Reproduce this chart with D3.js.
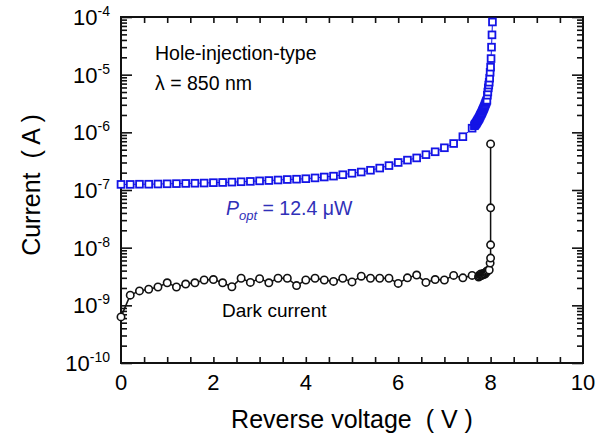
<!DOCTYPE html>
<html>
<head>
<meta charset="utf-8">
<script src="https://d3js.org/d3.v7.min.js"></script>
<style>
  body { margin: 0; background: #fff; }
  text { font-family: "Liberation Sans", Arial, Helvetica, sans-serif; fill: #000; }
</style>
</head>
<body>
<svg></svg>
<script>
// Photocurrent under illumination (blue squares), P_opt = 12.4 uW
const photoVoltage = [0, 0.2, 0.4, 0.6, 0.8, 1.0, 1.2, 1.4, 1.6, 1.8, 2.0, 2.2, 2.4, 2.6, 2.8, 3.0,
  3.2, 3.4, 3.6, 3.8, 4.0, 4.2, 4.4, 4.6, 4.8, 5.0, 5.2, 5.4, 5.6, 5.8, 6.0, 6.2, 6.4, 6.6, 6.8,
  7.0, 7.2, 7.4, 7.6,
  7.65, 7.66, 7.67, 7.68, 7.69, 7.70, 7.71, 7.72, 7.73, 7.74, 7.75, 7.76, 7.77, 7.78, 7.79,
  7.80, 7.81, 7.82, 7.83, 7.84, 7.85, 7.86, 7.87, 7.88, 7.89, 7.90, 7.91, 7.92,
  7.93, 7.94, 7.95, 7.96, 7.97, 7.98, 7.99, 8.00, 8.01, 8.02, 8.03, 8.04]
const photoCurrent = [1.25e-7, 1.25e-7, 1.26e-7, 1.26e-7, 1.27e-7, 1.28e-7, 1.29e-7, 1.30e-7, 1.31e-7,
  1.32e-7, 1.34e-7, 1.35e-7, 1.37e-7, 1.39e-7, 1.41e-7, 1.44e-7, 1.46e-7, 1.49e-7, 1.52e-7, 1.54e-7,
  1.57e-7, 1.62e-7, 1.68e-7, 1.74e-7, 1.84e-7, 1.95e-7, 2.05e-7, 2.2e-7, 2.4e-7, 2.65e-7, 3.0e-7,
  3.3e-7, 3.6e-7, 4.1e-7, 4.6e-7, 5.4e-7, 6.4e-7, 8.4e-7, 1.18e-6,
  1.3e-6, 1.35e-6, 1.38e-6, 1.42e-6, 1.45e-6, 1.5e-6, 1.55e-6, 1.6e-6, 1.65e-6, 1.7e-6, 1.75e-6,
  1.82e-6, 1.9e-6, 1.97e-6, 2.05e-6, 2.12e-6, 2.2e-6, 2.3e-6, 2.4e-6, 2.5e-6, 2.6e-6, 2.72e-6,
  2.85e-6, 3.0e-6, 3.15e-6, 3.3e-6, 3.45e-6, 3.6e-6,
  4.4e-6, 5.0e-6, 5.9e-6, 6.6e-6, 7.4e-6, 8.7e-6, 1.1e-5, 1.35e-5, 1.9e-5, 3.0e-5, 4.9e-5, 8.2e-5]

// Dark current (black circles)
const darkVoltage = [0, 0.2, 0.4, 0.6, 0.8, 1.0, 1.2, 1.4, 1.6, 1.8, 2.0, 2.2, 2.4, 2.6, 2.8, 3.0,
  3.2, 3.4, 3.6, 3.8, 4.0, 4.2, 4.4, 4.6, 4.8, 5.0, 5.2, 5.4, 5.6, 5.8, 6.0, 6.2, 6.4, 6.6, 6.8,
  7.0, 7.2, 7.4, 7.6,
  7.74, 7.75, 7.76, 7.77, 7.78, 7.79, 7.80, 7.81, 7.82, 7.83, 7.84, 7.85, 7.86, 7.87, 7.88,
  7.89, 7.90, 7.91, 7.92, 7.94,
  7.97, 7.99, 8.0, 8.0, 8.0, 8.0]
const darkCurrent = [6.3e-10, 1.5e-9, 1.78e-9, 1.9e-9, 2.08e-9, 2.46e-9, 2.08e-9, 2.34e-9, 2.46e-9,
  2.75e-9, 2.8e-9, 2.46e-9, 2.1e-9, 2.95e-9, 2.5e-9, 2.9e-9, 2.46e-9, 2.95e-9, 2.95e-9, 2.2e-9,
  2.75e-9, 2.95e-9, 2.75e-9, 2.6e-9, 2.95e-9, 2.55e-9, 3.2e-9, 2.95e-9, 2.95e-9, 2.95e-9, 2.4e-9,
  3.0e-9, 3.35e-9, 2.5e-9, 2.8e-9, 2.75e-9, 3.3e-9, 3.0e-9, 3.3e-9,
  3.1e-9, 3.3e-9, 3.2e-9, 3.4e-9, 3.3e-9, 3.5e-9, 3.3e-9, 3.45e-9, 3.35e-9, 3.5e-9, 3.4e-9,
  3.55e-9, 3.5e-9, 3.6e-9, 3.5e-9, 3.65e-9, 3.7e-9, 3.8e-9, 3.9e-9, 4.0e-9,
  4.1e-9, 5.4e-9, 6.6e-9, 1.12e-8, 4.9e-8, 6.3e-7]

const xTickLabels = [0, 2, 4, 6, 8, 10]
const yTickExponents = [-4, -5, -6, -7, -8, -9, -10]

// Layout
const width = 610, height = 439
const margin = {left: 121, top: 17, right: 27, bottom: 76}
const w = width - margin.left - margin.right
const h = height - margin.top - margin.bottom

const svg = d3.select("svg").attr("width", width).attr("height", height)
const g = svg.append("g").attr("transform", "translate(" + margin.left + "," + margin.top + ")")

const x = d3.scaleLinear().domain([0, 10]).range([0, w])
const y = d3.scaleLog().domain([1e-10, 1e-4]).range([h, 0])

// ticks every 0.5 V, inward on top and bottom
const xTicks = d3.range(0.5, 10, 0.5)
const yMajor = yTickExponents.map(e => Math.pow(10, e))
const yMinor = []
for (let e = -10; e < -4; e++) {
  for (let m = 2; m <= 9; m++) yMinor.push(m * Math.pow(10, e))
}

function styleAxis(sel) {
  sel.select(".domain").remove()
  sel.selectAll("line").attr("stroke", "#111").attr("stroke-width", 1.6)
}

g.append("g").attr("transform", "translate(0," + h + ")")
  .call(d3.axisBottom(x).tickValues(xTicks).tickSize(-6).tickFormat(""))
  .call(styleAxis)
g.append("g")
  .call(d3.axisTop(x).tickValues(xTicks).tickSize(-6).tickFormat(""))
  .call(styleAxis)
g.append("g").call(d3.axisLeft(y).tickValues(yMinor).tickSize(-6).tickFormat("")).call(styleAxis)
g.append("g").call(d3.axisLeft(y).tickValues(yMajor).tickSize(-11).tickFormat("")).call(styleAxis)
g.append("g").attr("transform", "translate(" + w + ",0)")
  .call(d3.axisRight(y).tickValues(yMinor).tickSize(-6).tickFormat("")).call(styleAxis)
g.append("g").attr("transform", "translate(" + w + ",0)")
  .call(d3.axisRight(y).tickValues(yMajor).tickSize(-11).tickFormat("")).call(styleAxis)

// frame
g.append("rect").attr("width", w).attr("height", h)
  .attr("fill", "none").attr("stroke", "#111").attr("stroke-width", 2)

// x tick labels
g.selectAll(".xlab").data(xTickLabels).enter().append("text")
  .attr("x", d => x(d)).attr("y", h + 27)
  .attr("text-anchor", "middle").style("font-size", "22px")
  .text(d => d)

// y tick labels 10^n
const ylab = g.selectAll(".ylab").data(yTickExponents).enter().append("text")
  .attr("x", -11).attr("y", d => y(Math.pow(10, d)) + 8)
  .attr("text-anchor", "end").style("font-size", "22px")
ylab.append("tspan").text("10")
ylab.append("tspan").attr("dy", -9).style("font-size", "14px").text(d => "-" + (-d))

// axis titles
svg.append("text")
  .attr("x", margin.left + w / 2).attr("y", 428)
  .attr("text-anchor", "middle").style("font-size", "25px").style("white-space", "pre")
  .text("Reverse voltage  ( V )")
svg.append("text")
  .attr("transform", "translate(40," + (margin.top + h / 2 - 5) + ") rotate(-90)")
  .attr("text-anchor", "middle").style("font-size", "25px").style("white-space", "pre")
  .text("Current  ( A )")

// clip for data
svg.append("clipPath").attr("id", "plotclip")
  .append("rect").attr("x", -6).attr("y", -6).attr("width", w + 12).attr("height", h + 12)
const plot = g.append("g").attr("clip-path", "url(#plotclip)")

const dark = darkVoltage.map((v, i) => ({v: v, c: darkCurrent[i]}))
const photo = photoVoltage.map((v, i) => ({v: v, c: photoCurrent[i]}))
const line = d3.line().x(d => x(d.v)).y(d => y(d.c))

const blue = "#1414e6"

plot.append("path").datum(dark).attr("d", line)
  .attr("fill", "none").attr("stroke", "#111").attr("stroke-width", 1.5)
plot.selectAll(".dark").data(dark).enter().append("circle")
  .attr("cx", d => x(d.v)).attr("cy", d => y(d.c)).attr("r", 3.7)
  .attr("fill", "#fff").attr("stroke", "#111").attr("stroke-width", 1.6)

plot.append("path").datum(photo).attr("d", line)
  .attr("fill", "none").attr("stroke", blue).attr("stroke-width", 1)
plot.selectAll(".photo").data(photo).enter().append("rect")
  .attr("x", d => x(d.v) - 3.4).attr("y", d => y(d.c) - 3.4)
  .attr("width", 6.8).attr("height", 6.8)
  .attr("fill", "#fff").attr("stroke", blue).attr("stroke-width", 1.8)

// annotations
svg.append("text").attr("x", 155).attr("y", 60).style("font-size", "19.5px").text("Hole-injection-type")
svg.append("text").attr("x", 155).attr("y", 90).style("font-size", "19.5px").text("λ = 850 nm")
const pt = svg.append("text").attr("x", 226).attr("y", 215).style("font-size", "19.5px")
  .style("fill", "#3030b8")
pt.append("tspan").style("font-style", "italic").style("fill", "#3030b8").text("P")
pt.append("tspan").attr("dy", 5).style("font-style", "italic").style("font-size", "13px")
  .style("fill", "#3030b8").text("opt")
pt.append("tspan").attr("dy", -5).style("fill", "#3030b8").text(" = 12.4 μW")
svg.append("text").attr("x", 222).attr("y", 317).style("font-size", "19px").text("Dark current")
</script>
</body>
</html>
